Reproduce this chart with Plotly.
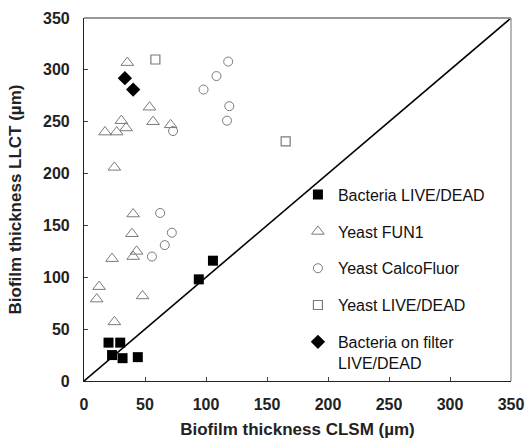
import plotly.graph_objects as go

# ---- data ----
bact_x = [20.1, 29.7, 23.0, 31.6, 44.1, 94.1, 105.7]
bact_y = [37, 37, 25, 22, 23, 98, 116]

fun1_x = [35.5, 30.6, 34.5, 17.2, 26.8, 24.9, 53.7, 56.6, 71.0, 40.3, 39.3, 23.0, 40.3, 43.1, 12.4, 10.4, 48.0, 24.9]
fun1_y = [307, 251, 244, 240, 240, 206, 264, 250, 247, 161, 142, 118, 120, 125, 91, 79, 82, 57]

calco_x = [98.0, 108.6, 118.2, 119.1, 117.2, 73.0, 62.4, 72.0, 66.2, 55.7]
calco_y = [281, 294, 308, 265, 251, 241, 162, 143, 131, 120]

yld_x = [58.5, 165.3]
yld_y = [310, 231]

filt_x = [33.5, 40.3]
filt_y = [292, 281]

diag_x = [0, 350]
diag_y = [0, 350]

tick_vals = [0, 50, 100, 150, 200, 250, 300, 350]
tick_text = ["0", "50", "100", "150", "200", "250", "300", "350"]

FONT = "Liberation Sans, Arial, sans-serif"
GRAY = "#7a7a7a"

fig = go.Figure()

fig.add_trace(go.Scatter(x=diag_x, y=diag_y, mode="lines",
                         line=dict(color="black", width=1.6),
                         showlegend=False, hoverinfo="skip"))

fig.add_trace(go.Scatter(x=bact_x, y=bact_y, mode="markers", name="Bacteria LIVE/DEAD",
                         legendgroup="a",
                         marker=dict(symbol="square", size=10, color="black")))
fig.add_trace(go.Scatter(x=fun1_x, y=fun1_y, mode="markers", name="Yeast FUN1",
                         legendgroup="b",
                         marker=dict(symbol="triangle-up-open", size=11, color=GRAY,
                                     line=dict(width=1))))
fig.add_trace(go.Scatter(x=calco_x, y=calco_y, mode="markers", name="Yeast CalcoFluor",
                         legendgroup="c",
                         marker=dict(symbol="circle-open", size=9, color=GRAY,
                                     line=dict(width=1))))
fig.add_trace(go.Scatter(x=yld_x, y=yld_y, mode="markers", name="Yeast LIVE/DEAD",
                         legendgroup="d",
                         marker=dict(symbol="square-open", size=9, color=GRAY,
                                     line=dict(width=1.2))))
fig.add_trace(go.Scatter(x=filt_x, y=filt_y, mode="markers",
                         name="Bacteria on filter<br>LIVE/DEAD",
                         legendgroup="e",
                         marker=dict(symbol="diamond", size=11, color="black")))

axis_common = dict(
    range=[0, 350], tickvals=tick_vals, ticktext=tick_text,
    showgrid=False, zeroline=False, showline=True, linecolor="#222", linewidth=1.2,
    ticks="inside", ticklen=4, tickcolor="#444", automargin=False,
    tickfont=dict(family=FONT, size=16, color="#222", weight="bold"),
)

fig.update_layout(
    width=525, height=440,
    margin=dict(l=84, r=14, t=18, b=59),
    paper_bgcolor="white", plot_bgcolor="white",
    font=dict(family=FONT, color="#222"),
    xaxis=dict(**axis_common, ticklabelstandoff=9,
               title=dict(text="Biofilm thickness CLSM (µm)", standoff=10,
                          font=dict(family=FONT, size=17, color="#222", weight="bold"))),
    yaxis=dict(**axis_common, ticklabelstandoff=10,
               title=dict(text="Biofilm thickness LLCT (µm)", standoff=17,
                          font=dict(family=FONT, size=17, color="#222", weight="bold"))),
    legend=dict(x=0.501, y=0.56, xanchor="left", yanchor="top",
                font=dict(family=FONT, size=16, color="#111"),
                bgcolor="rgba(0,0,0,0)", borderwidth=0,
                tracegroupgap=13, traceorder="grouped", valign="top",
                itemwidth=30),
    shapes=[
        dict(type="line", xref="paper", yref="paper", x0=0, x1=1, y0=1, y1=1,
             line=dict(color="#999", width=2)),
        dict(type="line", xref="paper", yref="paper", x0=1, x1=1, y0=0, y1=1,
             line=dict(color="#888", width=1.2)),
    ],
)

# remove the browser's default 8px body margin so the figure fills the window exactly
fig.write_html("out.html",
               config={"displayModeBar": False},
               post_script="document.body.style.margin='0';document.body.style.overflow='hidden';")
